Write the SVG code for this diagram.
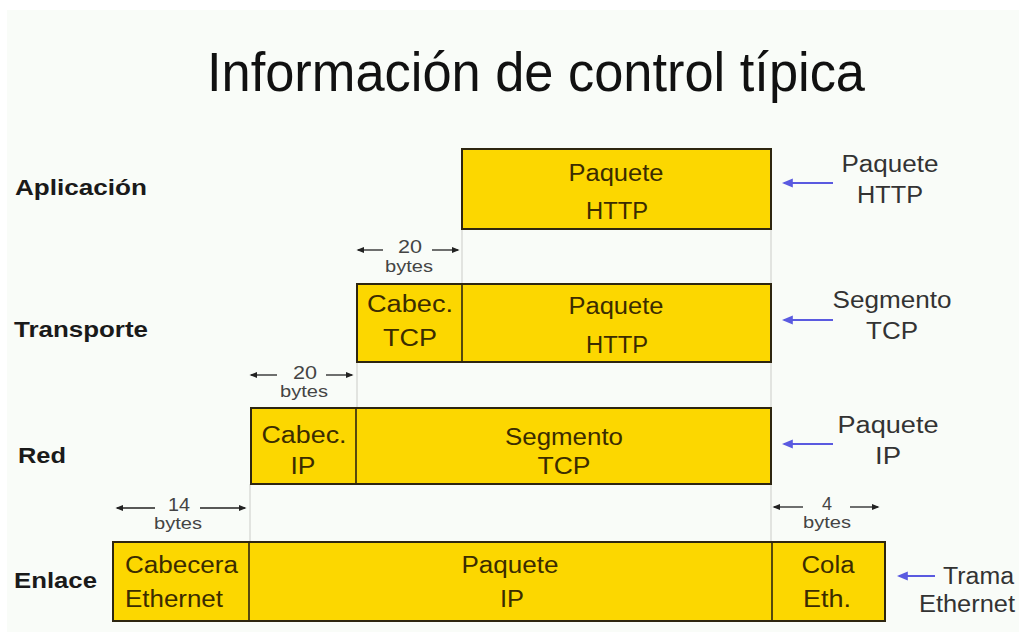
<svg xmlns="http://www.w3.org/2000/svg" width="1019" height="632" viewBox="0 0 1019 632">
  <defs>
    <style>
      .bg { fill: #f9fcf8; }
      .box { fill: #fcd700; stroke: #2e2610; stroke-width: 2; }
      .div { stroke: #2e2610; stroke-width: 1.6; }
      .guide { stroke: #d2d4d0; stroke-width: 1.2; }
      .title { font-family: "Liberation Sans", Arial, sans-serif; font-size: 56px; fill: #111; }
      .layer { font-family: "Liberation Sans", Arial, sans-serif; font-size: 22px; font-weight: bold; fill: #1a1a1a; }
      .in { font-family: "Liberation Sans", Arial, sans-serif; font-size: 23px; fill: #3b2c00; text-anchor: middle; }
      .inl { font-family: "Liberation Sans", Arial, sans-serif; font-size: 23px; fill: #3b2c00; }
      .side { font-family: "Liberation Sans", Arial, sans-serif; font-size: 23px; fill: #333; text-anchor: middle; }
      .dim { font-family: "Liberation Sans", Arial, sans-serif; font-size: 16px; fill: #444; text-anchor: middle; }
      .dimn { font-family: "Liberation Sans", Arial, sans-serif; font-size: 18px; fill: #444; text-anchor: middle; }
      .dline { stroke: #222; stroke-width: 1.3; fill: none; }
      .bline { stroke: #5a5ae0; stroke-width: 2.2; fill: none; }
    </style>
    <marker id="dot" viewBox="0 0 10 10" refX="8" refY="5" markerWidth="6" markerHeight="6" orient="auto-start-reverse">
      <path d="M0,1 L10,5 L0,9 Z" fill="#222"/>
    </marker>
    <marker id="blue" viewBox="0 0 10 10" refX="8" refY="5" markerWidth="5" markerHeight="5" orient="auto-start-reverse">
      <path d="M0,1 L10,5 L0,9 Z" fill="#5a5ae0"/>
    </marker>
  </defs>

  <!-- page -->
  <rect x="0" y="0" width="1019" height="632" fill="#ffffff"/>
  <rect class="bg" x="7" y="10" width="1012" height="622"/>

  <text class="title" x="536" y="91" text-anchor="middle" textLength="658" lengthAdjust="spacingAndGlyphs">Información de control típica</text>

  <!-- layer names -->
  <g id="layer-names">
    <text class="layer" x="15" y="195" textLength="132" lengthAdjust="spacingAndGlyphs">Aplicación</text>
    <text class="layer" x="14" y="337" textLength="134" lengthAdjust="spacingAndGlyphs">Transporte</text>
    <text class="layer" x="18" y="463" textLength="48" lengthAdjust="spacingAndGlyphs">Red</text>
    <text class="layer" x="14" y="588" textLength="83" lengthAdjust="spacingAndGlyphs">Enlace</text>
  </g>

  <!-- alignment guides between frames -->
  <g id="guides">
    <line class="guide" x1="771" y1="230" x2="771" y2="542"/>
    <line class="guide" x1="462" y1="230" x2="462" y2="284"/>
    <line class="guide" x1="357" y1="362" x2="357" y2="408"/>
    <line class="guide" x1="250" y1="484" x2="250" y2="542"/>
  </g>

  <!-- application -->
  <g id="app-packet">
    <rect class="box" x="462" y="149" width="309" height="80"/>
    <text class="in" x="616" y="181" textLength="95" lengthAdjust="spacingAndGlyphs">Paquete</text>
    <text class="in" x="617" y="219" textLength="62" lengthAdjust="spacingAndGlyphs">HTTP</text>
  </g>

  <!-- transport -->
  <g id="tcp-segment">
    <rect class="box" x="357" y="284" width="414" height="78"/>
    <line class="div" x1="462" y1="284" x2="462" y2="362"/>
    <text class="in" x="410" y="312" textLength="86" lengthAdjust="spacingAndGlyphs">Cabec.</text>
    <text class="in" x="410" y="346" textLength="54" lengthAdjust="spacingAndGlyphs">TCP</text>
    <text class="in" x="616" y="314" textLength="95" lengthAdjust="spacingAndGlyphs">Paquete</text>
    <text class="in" x="617" y="353" textLength="62" lengthAdjust="spacingAndGlyphs">HTTP</text>
  </g>

  <!-- network -->
  <g id="ip-packet">
    <rect class="box" x="251" y="408" width="520" height="76"/>
    <line class="div" x1="356" y1="408" x2="356" y2="484"/>
    <text class="in" x="304" y="443" textLength="85" lengthAdjust="spacingAndGlyphs">Cabec.</text>
    <text class="in" x="303" y="474" textLength="25" lengthAdjust="spacingAndGlyphs">IP</text>
    <text class="in" x="564" y="445" textLength="118" lengthAdjust="spacingAndGlyphs">Segmento</text>
    <text class="in" x="564" y="474" textLength="53" lengthAdjust="spacingAndGlyphs">TCP</text>
  </g>

  <!-- link -->
  <g id="eth-frame">
    <rect class="box" x="113" y="542" width="772" height="79"/>
    <line class="div" x1="249" y1="542" x2="249" y2="621"/>
    <line class="div" x1="772" y1="542" x2="772" y2="621"/>
    <text class="inl" x="125" y="573" textLength="113" lengthAdjust="spacingAndGlyphs">Cabecera</text>
    <text class="inl" x="125" y="607" textLength="98" lengthAdjust="spacingAndGlyphs">Ethernet</text>
    <text class="in" x="510" y="573" textLength="97" lengthAdjust="spacingAndGlyphs">Paquete</text>
    <text class="in" x="512" y="607" textLength="24" lengthAdjust="spacingAndGlyphs">IP</text>
    <text class="in" x="828" y="573" textLength="53" lengthAdjust="spacingAndGlyphs">Cola</text>
    <text class="in" x="827" y="607" textLength="48" lengthAdjust="spacingAndGlyphs">Eth.</text>
  </g>

  <!-- size annotations -->
  <g id="dims">
    <text class="dimn" x="410" y="253" textLength="24" lengthAdjust="spacingAndGlyphs">20</text>
    <text class="dim" x="409" y="272" textLength="48" lengthAdjust="spacingAndGlyphs">bytes</text>
    <text class="dimn" x="305" y="379" textLength="24" lengthAdjust="spacingAndGlyphs">20</text>
    <text class="dim" x="304" y="397" textLength="48" lengthAdjust="spacingAndGlyphs">bytes</text>
    <text class="dimn" x="179" y="511" textLength="22" lengthAdjust="spacingAndGlyphs">14</text>
    <text class="dim" x="178" y="529" textLength="48" lengthAdjust="spacingAndGlyphs">bytes</text>
    <text class="dimn" x="827" y="510">4</text>
    <text class="dim" x="827" y="528" textLength="48" lengthAdjust="spacingAndGlyphs">bytes</text>
  </g>

  <!-- connectors -->
  <g id="connectors">
    <line class="dline" x1="383" y1="250" x2="358" y2="250" marker-end="url(#dot)"/>
    <line class="dline" x1="432" y1="250" x2="458" y2="250" marker-end="url(#dot)"/>
    <line class="dline" x1="277" y1="375" x2="251" y2="375" marker-end="url(#dot)"/>
    <line class="dline" x1="326" y1="375" x2="352" y2="375" marker-end="url(#dot)"/>
    <line class="dline" x1="155" y1="508" x2="117" y2="508" marker-end="url(#dot)"/>
    <line class="dline" x1="200" y1="508" x2="245" y2="508" marker-end="url(#dot)"/>
    <line class="dline" x1="803" y1="507" x2="774" y2="507" marker-end="url(#dot)"/>
    <line class="dline" x1="850" y1="507" x2="878" y2="507" marker-end="url(#dot)"/>

    <line class="bline" x1="833" y1="183" x2="784" y2="183" marker-end="url(#blue)"/>
    <line class="bline" x1="833" y1="320" x2="784" y2="320" marker-end="url(#blue)"/>
    <line class="bline" x1="833" y1="444" x2="784" y2="444" marker-end="url(#blue)"/>
    <line class="bline" x1="935" y1="576" x2="899" y2="576" marker-end="url(#blue)"/>
  </g>

  <!-- unit names -->
  <g id="unit-names">
    <text class="side" x="890" y="172" textLength="97" lengthAdjust="spacingAndGlyphs">Paquete</text>
    <text class="side" x="890" y="203" textLength="66" lengthAdjust="spacingAndGlyphs">HTTP</text>
    <text class="side" x="892" y="308" textLength="119" lengthAdjust="spacingAndGlyphs">Segmento</text>
    <text class="side" x="892" y="339" textLength="52" lengthAdjust="spacingAndGlyphs">TCP</text>
    <text class="side" x="888" y="433" textLength="101" lengthAdjust="spacingAndGlyphs">Paquete</text>
    <text class="side" x="888" y="464" textLength="26" lengthAdjust="spacingAndGlyphs">IP</text>
    <text class="side" x="1014" y="584" style="text-anchor:end" textLength="71" lengthAdjust="spacingAndGlyphs">Trama</text>
    <text class="side" x="1015" y="612" style="text-anchor:end" textLength="96" lengthAdjust="spacingAndGlyphs">Ethernet</text>
  </g>
</svg>
